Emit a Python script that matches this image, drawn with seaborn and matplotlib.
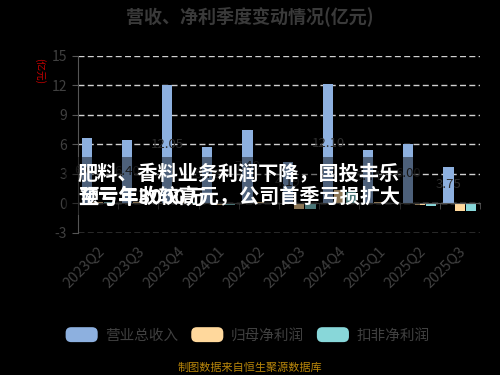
import matplotlib
matplotlib.use('Agg')
import matplotlib.pyplot as plt
import matplotlib.transforms as mtransforms
import seaborn as sns
import pandas as pd
from matplotlib.patches import Rectangle, FancyBboxPatch, Patch
from matplotlib.legend_handler import HandlerPatch
from matplotlib.ticker import FixedLocator

# ---------------- data ----------------
quarters = ['2023Q2', '2023Q3', '2023Q4', '2024Q1', '2024Q2',
            '2024Q3', '2024Q4', '2025Q1', '2025Q2', '2025Q3']
revenue = [6.63, 6.40, 12.05, 5.78, 7.48, 4.19, 12.10, 5.44, 6.00, 3.75]
net_profit = [0.15, 0.12, 0.20, -0.15, 0.10, -0.55, 1.40, 0.10, -0.20, -0.75]
deducted_profit = [0.10, 0.08, 0.15, -0.20, 0.05, -0.60, 1.20, 0.08, -0.25, -0.75]
series_names = ['营业总收入', '归母净利润', '扣非净利润']
colors = ['#8DB0DF', '#FFD89C', '#88D7D9']
yticks = [-3, 0, 3, 6, 9, 12, 15]
title = '营收、净利季度变动情况(亿元)'
unit_label = '(亿元)'
footer = '制图数据来自恒生聚源数据库'
overlay_line1 = '肥料、香料业务利润下降，国投丰乐'
overlay_line2 = '预亏年收较高元，公司首季亏损扩大'
overlay_line2b = '至亏年3000万'

plt.rcParams['font.family'] = ['Noto Sans CJK SC', 'DejaVu Sans']
plt.rcParams['axes.unicode_minus'] = False

df = pd.DataFrame({
    'quarter': quarters * 3,
    'series': [series_names[0]] * len(quarters) + [series_names[1]] * len(quarters)
              + [series_names[2]] * len(quarters),
    'value': revenue + net_profit + deducted_profit,
})

fig = plt.figure(figsize=(5, 3.75), dpi=100, facecolor='black')
ax = fig.add_axes([0.156, 0.379, 0.804, 0.472])
ax.set_facecolor('black')

sns.barplot(data=df, x='quarter', y='value', hue='series', order=quarters,
            hue_order=series_names, palette=colors, width=0.85, gap=0.1,
            saturation=1, legend=False, ax=ax, zorder=3)

ax.bar_label(ax.containers[0], fmt='%.2f', label_type='center',
             color='#2e2e2e', fontsize=9.5, zorder=4)

ax.set_ylim(-3, 15)
ax.set_xlim(-0.5, len(quarters) - 0.5)
ax.set_yticks(yticks)
ax.set_xlabel('')
ax.set_ylabel('')
ax.set_axisbelow(True)
ax.grid(axis='y', color='#d0d0d0', linestyle=(0, (4.3, 2.4)), lw=1)
ax.grid(axis='x', visible=False)

for s in ['top', 'right']:
    ax.spines[s].set_visible(False)
ax.spines['left'].set_color('#555555')
ax.spines['bottom'].set_color('#555555')
ax.spines['bottom'].set_position(('data', 0))
ax.spines['bottom'].set_zorder(5)

ax.xaxis.set_minor_locator(FixedLocator([i - 0.5 for i in range(len(quarters) + 1)]))
ax.tick_params(axis='x', which='major', length=0, pad=33,
               labelcolor='#404040', labelsize=10.5)
ax.tick_params(axis='x', which='minor', length=4, color='#555555', direction='out')
ax.tick_params(axis='y', length=4.5, color='#555555', labelcolor='#404040',
               labelsize=10)
offset = mtransforms.ScaledTranslation(4 / 100, 0, fig.dpi_scale_trans)
for lbl in ax.get_xticklabels():
    lbl.set_rotation(45)
    lbl.set_ha('right')
    lbl.set_va('center')
    lbl.set_rotation_mode('anchor')
    lbl.set_transform(lbl.get_transform() + offset)

# titles and notes
fig.text(0.5, 1 - 16 / 375, title, ha='center', va='center', fontsize=13,
         fontweight='bold', color='#3a3a3a')
fig.text(0.08, 1 - 71 / 375, unit_label, rotation=-90, ha='center',
         va='center', fontsize=7, color='#cc0000')
fig.text(0.5, 1 - 368 / 375, footer, ha='center', va='center', fontsize=8,
         color='#b8860b')

# legend with rounded swatches
class RoundHandler(HandlerPatch):
    def create_artists(self, legend, orig_handle, xdescent, ydescent, width,
                       height, fontsize, trans):
        p = FancyBboxPatch((-xdescent, -ydescent), width, height,
                           boxstyle='round,pad=0,rounding_size=4',
                           facecolor=orig_handle.get_facecolor(),
                           edgecolor='none', transform=trans)
        return [p]

handles = [Patch(facecolor=c) for c in colors]
fig.legend(handles, series_names, loc='center', bbox_to_anchor=(0.495, 0.107),
           ncol=3, frameon=False, handler_map={Patch: RoundHandler()},
           handlelength=2.2, handleheight=1.2, handletextpad=0.5,
           columnspacing=0.9, fontsize=10.5, labelcolor='#404040')

# overlay banner
fig.add_artist(Rectangle((0.13, 1 - 215 / 375), 0.71, 58 / 375,
                         transform=fig.transFigure, facecolor='black',
                         alpha=0.45, edgecolor='none', zorder=5))
fig.text(0.478, 1 - 173 / 375, overlay_line1, ha='center', va='center',
         fontsize=14.5, fontweight='bold', color='white', zorder=6)
fig.text(0.478, 1 - 197 / 375, overlay_line2, ha='center', va='center',
         fontsize=14.5, fontweight='bold', color='white', zorder=6)
fig.text(0.157, 1 - 197 / 375, overlay_line2b, ha='left', va='center',
         fontsize=14.5, fontweight='bold', color='white', zorder=6)

fig.savefig('out.png', dpi=100, facecolor='black')
